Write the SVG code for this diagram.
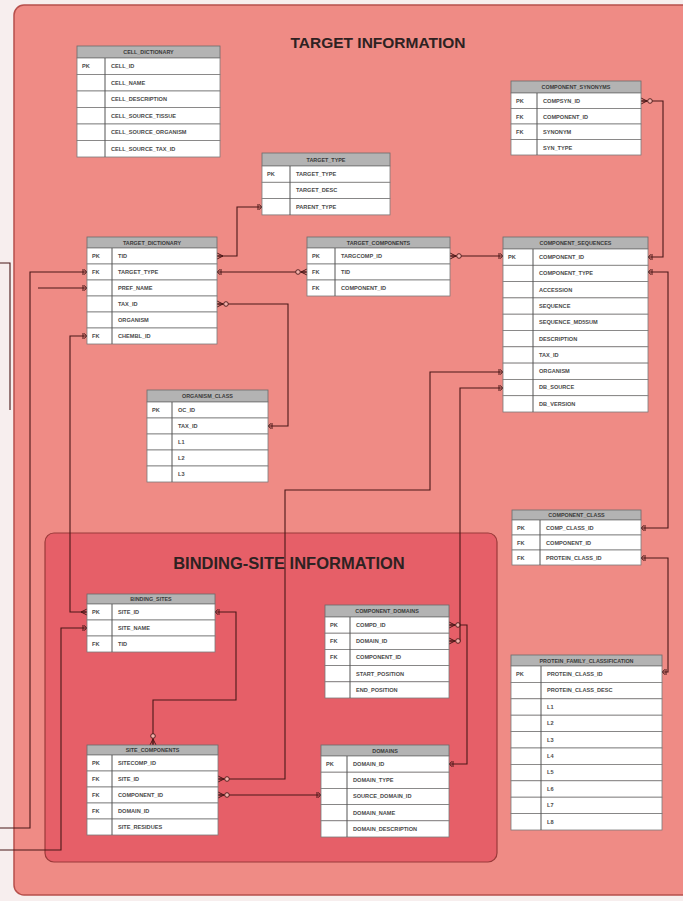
<svg xmlns="http://www.w3.org/2000/svg" width="683" height="901" viewBox="0 0 683 901">
<style>
.hd{fill:#b3b3b3;stroke:#6a6a6a;stroke-width:0.8}
.rw{fill:#ffffff;stroke:#7a7a7a;stroke-width:0.8}
.sp{stroke:#555;stroke-width:1}
.t{font-family:"Liberation Sans",Arial,sans-serif;font-size:5.6px;font-weight:bold;fill:#4a4a4a}
.h{font-family:"Liberation Sans",Arial,sans-serif;font-size:5.4px;font-weight:bold;fill:#3a3a3a;text-anchor:middle}
.ttl{font-family:"Liberation Sans",Arial,sans-serif;font-weight:bold;fill:#2e2222;text-anchor:middle}
.c{fill:none;stroke:#4a1818;stroke-width:1.1}
</style>
<defs>
<marker id="crow" markerUnits="userSpaceOnUse" viewBox="-12 -5 14 10" refX="0" refY="0" markerWidth="14" markerHeight="10" orient="auto-start-reverse">
<path d="M-6,0 L0,-3 M-6,0 L0,0 M-6,0 L0,3" fill="none" stroke="#4a1818" stroke-width="1"/>
</marker>
<marker id="ocrow" markerUnits="userSpaceOnUse" viewBox="-14 -5 16 10" refX="0" refY="0" markerWidth="16" markerHeight="10" orient="auto-start-reverse">
<path d="M-6,0 L0,-3 M-6,0 L0,0 M-6,0 L0,3" fill="none" stroke="#4a1818" stroke-width="1"/>
<circle cx="-9" cy="0" r="2.3" fill="#f3b0aa" stroke="#4a1818" stroke-width="0.9"/>
</marker>
<marker id="bar" markerUnits="userSpaceOnUse" viewBox="-8 -5 10 10" refX="0" refY="0" markerWidth="10" markerHeight="10" orient="auto-start-reverse">
<path d="M-4,-3 L-4,3 M-3,-2.5 L0,0 L-3,2.5" fill="none" stroke="#4a1818" stroke-width="1"/>
</marker>
</defs>

<rect x="0" y="0" width="683" height="901" fill="#f7eeee"/>
<rect x="14" y="5" width="680" height="890" rx="10" fill="#ef8b85" stroke="#b7504c" stroke-width="1.5"/>
<rect x="45" y="533" width="452" height="329" rx="9" fill="#e65f68" stroke="#9a3a3a" stroke-width="1.2"/>
<text class="ttl" x="378" y="48" font-size="15.5">TARGET INFORMATION</text>
<text class="ttl" x="289" y="569" font-size="16.5">BINDING-SITE INFORMATION</text>

<g id="connectors">
<path class="c" d="M217,256 H237 V207 H262" marker-start="url(#crow)" marker-end="url(#bar)"/>
<path class="c" d="M217,272 H307" marker-start="url(#bar)" marker-end="url(#ocrow)"/>
<path class="c" d="M217,304 H288 V426 H268" marker-start="url(#ocrow)" marker-end="url(#bar)"/>
<path class="c" d="M450,256 H503" marker-start="url(#ocrow)" marker-end="url(#bar)"/>
<path class="c" d="M641,101 H663 V257 H648" marker-start="url(#ocrow)" marker-end="url(#bar)"/>
<path class="c" d="M641,528 H668 V272 H648" marker-start="url(#bar)" marker-end="url(#bar)"/>
<path class="c" d="M641,558 H668 V672 H662" marker-start="url(#bar)" marker-end="url(#bar)"/>
<path class="c" d="M87,336 H70 V612 H87" marker-start="url(#bar)" marker-end="url(#crow)"/>
<path class="c" d="M215,612 H236 V700 H153 V745" marker-start="url(#bar)" marker-end="url(#ocrow)"/>
<path class="c" d="M218,795 H321" marker-start="url(#ocrow)" marker-end="url(#bar)"/>
<path class="c" d="M218,779 H285 V490 H430 V372 H503" marker-start="url(#ocrow)" marker-end="url(#bar)"/>
<path class="c" d="M449,625 H467 V764 H449" marker-start="url(#ocrow)" marker-end="url(#bar)"/>
<path class="c" d="M449,641 H460 V388 H503" marker-start="url(#ocrow)" marker-end="url(#bar)"/>
<path class="c" d="M0,263 H10 V410"/>
<path class="c" d="M0,828 H30 V272 H87" marker-end="url(#bar)"/>
<path class="c" d="M0,850 H61 V628 H87" marker-end="url(#bar)"/>
<path class="c" d="M38,288 H87" marker-end="url(#bar)"/>
</g>

<g id="cell_dictionary">
<rect class="hd" x="77" y="46" width="143" height="12"/>
<text class="h" x="148.5" y="54">CELL_DICTIONARY</text>
<rect class="rw" x="77" y="58" width="143" height="16.5"/><rect class="rw" x="77" y="74.5" width="143" height="16.5"/><rect class="rw" x="77" y="91" width="143" height="16.5"/><rect class="rw" x="77" y="107.5" width="143" height="16.5"/><rect class="rw" x="77" y="124" width="143" height="16.5"/><rect class="rw" x="77" y="140.5" width="143" height="16.5"/>
<line class="sp" x1="105" y1="58" x2="105" y2="157"/>
<text class="t" x="82" y="68">PK</text>
<text class="t" x="111" y="68">CELL_ID</text><text class="t" x="111" y="84.5">CELL_NAME</text><text class="t" x="111" y="101">CELL_DESCRIPTION</text><text class="t" x="111" y="117.5">CELL_SOURCE_TISSUE</text><text class="t" x="111" y="134">CELL_SOURCE_ORGANISM</text><text class="t" x="111" y="150.5">CELL_SOURCE_TAX_ID</text>
</g>

<g id="target_type">
<rect class="hd" x="262" y="153" width="128" height="13"/>
<text class="h" x="326" y="161.5">TARGET_TYPE</text>
<rect class="rw" x="262" y="166" width="128" height="16.3"/><rect class="rw" x="262" y="182.3" width="128" height="16.3"/><rect class="rw" x="262" y="198.6" width="128" height="16.3"/>
<line class="sp" x1="290" y1="166" x2="290" y2="215"/>
<text class="t" x="267" y="176">PK</text>
<text class="t" x="296" y="176">TARGET_TYPE</text><text class="t" x="296" y="192.3">TARGET_DESC</text><text class="t" x="296" y="208.6">PARENT_TYPE</text>
</g>

<g id="target_dictionary">
<rect class="hd" x="87" y="237" width="130" height="11"/>
<text class="h" x="152" y="244.5">TARGET_DICTIONARY</text>
<rect class="rw" x="87" y="248" width="130" height="16"/><rect class="rw" x="87" y="264" width="130" height="16"/><rect class="rw" x="87" y="280" width="130" height="16"/><rect class="rw" x="87" y="296" width="130" height="16"/><rect class="rw" x="87" y="312" width="130" height="16"/><rect class="rw" x="87" y="328" width="130" height="16"/>
<line class="sp" x1="112" y1="248" x2="112" y2="344"/>
<text class="t" x="92" y="258">PK</text><text class="t" x="92" y="274">FK</text><text class="t" x="92" y="338">FK</text>
<text class="t" x="118" y="258">TID</text><text class="t" x="118" y="274">TARGET_TYPE</text><text class="t" x="118" y="290">PREF_NAME</text><text class="t" x="118" y="306">TAX_ID</text><text class="t" x="118" y="322">ORGANISM</text><text class="t" x="118" y="338">CHEMBL_ID</text>
</g>

<g id="target_components">
<rect class="hd" x="307" y="237" width="143" height="11"/>
<text class="h" x="378.5" y="244.5">TARGET_COMPONENTS</text>
<rect class="rw" x="307" y="248" width="143" height="16"/><rect class="rw" x="307" y="264" width="143" height="16"/><rect class="rw" x="307" y="280" width="143" height="16"/>
<line class="sp" x1="335" y1="248" x2="335" y2="296"/>
<text class="t" x="312" y="258">PK</text><text class="t" x="312" y="274">FK</text><text class="t" x="312" y="290">FK</text>
<text class="t" x="341" y="258">TARGCOMP_ID</text><text class="t" x="341" y="274">TID</text><text class="t" x="341" y="290">COMPONENT_ID</text>
</g>

<g id="component_synonyms">
<rect class="hd" x="511" y="81" width="130" height="12"/>
<text class="h" x="576" y="89">COMPONENT_SYNONYMS</text>
<rect class="rw" x="511" y="93" width="130" height="15.5"/><rect class="rw" x="511" y="108.5" width="130" height="15.5"/><rect class="rw" x="511" y="124" width="130" height="15.5"/><rect class="rw" x="511" y="139.5" width="130" height="15.5"/>
<line class="sp" x1="537" y1="93" x2="537" y2="155"/>
<text class="t" x="516" y="103">PK</text><text class="t" x="516" y="118.5">FK</text><text class="t" x="516" y="134">FK</text>
<text class="t" x="543" y="103">COMPSYN_ID</text><text class="t" x="543" y="118.5">COMPONENT_ID</text><text class="t" x="543" y="134">SYNONYM</text><text class="t" x="543" y="149.5">SYN_TYPE</text>
</g>

<g id="component_sequences">
<rect class="hd" x="503" y="237" width="145" height="12"/>
<text class="h" x="575.5" y="245">COMPONENT_SEQUENCES</text>
<rect class="rw" x="503" y="249" width="145" height="16.3"/><rect class="rw" x="503" y="265.3" width="145" height="16.3"/><rect class="rw" x="503" y="281.6" width="145" height="16.3"/><rect class="rw" x="503" y="297.9" width="145" height="16.3"/><rect class="rw" x="503" y="314.2" width="145" height="16.3"/><rect class="rw" x="503" y="330.5" width="145" height="16.3"/><rect class="rw" x="503" y="346.8" width="145" height="16.3"/><rect class="rw" x="503" y="363.1" width="145" height="16.3"/><rect class="rw" x="503" y="379.4" width="145" height="16.3"/><rect class="rw" x="503" y="395.7" width="145" height="16.3"/>
<line class="sp" x1="533" y1="249" x2="533" y2="412"/>
<text class="t" x="508" y="259">PK</text>
<text class="t" x="539" y="259">COMPONENT_ID</text><text class="t" x="539" y="275.3">COMPONENT_TYPE</text><text class="t" x="539" y="291.6">ACCESSION</text><text class="t" x="539" y="307.9">SEQUENCE</text><text class="t" x="539" y="324.2">SEQUENCE_MD5SUM</text><text class="t" x="539" y="340.5">DESCRIPTION</text><text class="t" x="539" y="356.8">TAX_ID</text><text class="t" x="539" y="373.1">ORGANISM</text><text class="t" x="539" y="389.4">DB_SOURCE</text><text class="t" x="539" y="405.7">DB_VERSION</text>
</g>

<g id="organism_class">
<rect class="hd" x="147" y="390" width="121" height="12"/>
<text class="h" x="207.5" y="398">ORGANISM_CLASS</text>
<rect class="rw" x="147" y="402" width="121" height="16"/><rect class="rw" x="147" y="418" width="121" height="16"/><rect class="rw" x="147" y="434" width="121" height="16"/><rect class="rw" x="147" y="450" width="121" height="16"/><rect class="rw" x="147" y="466" width="121" height="16"/>
<line class="sp" x1="172" y1="402" x2="172" y2="482"/>
<text class="t" x="152" y="412">PK</text>
<text class="t" x="178" y="412">OC_ID</text><text class="t" x="178" y="428">TAX_ID</text><text class="t" x="178" y="444">L1</text><text class="t" x="178" y="460">L2</text><text class="t" x="178" y="476">L3</text>
</g>

<g id="component_class">
<rect class="hd" x="512" y="510" width="129" height="10"/>
<text class="h" x="576.5" y="517">COMPONENT_CLASS</text>
<rect class="rw" x="512" y="520" width="129" height="15"/><rect class="rw" x="512" y="535" width="129" height="15"/><rect class="rw" x="512" y="550" width="129" height="15"/>
<line class="sp" x1="540" y1="520" x2="540" y2="565"/>
<text class="t" x="517" y="529.5">PK</text><text class="t" x="517" y="544.5">FK</text><text class="t" x="517" y="559.5">FK</text>
<text class="t" x="546" y="529.5">COMP_CLASS_ID</text><text class="t" x="546" y="544.5">COMPONENT_ID</text><text class="t" x="546" y="559.5">PROTEIN_CLASS_ID</text>
</g>

<g id="binding_sites">
<rect class="hd" x="87" y="594" width="128" height="10"/>
<text class="h" x="151" y="601">BINDING_SITES</text>
<rect class="rw" x="87" y="604" width="128" height="16"/><rect class="rw" x="87" y="620" width="128" height="16"/><rect class="rw" x="87" y="636" width="128" height="16"/>
<line class="sp" x1="112" y1="604" x2="112" y2="652"/>
<text class="t" x="92" y="614">PK</text><text class="t" x="92" y="646">FK</text>
<text class="t" x="118" y="614">SITE_ID</text><text class="t" x="118" y="630">SITE_NAME</text><text class="t" x="118" y="646">TID</text>
</g>

<g id="site_components">
<rect class="hd" x="87" y="745" width="131" height="10"/>
<text class="h" x="152.5" y="752">SITE_COMPONENTS</text>
<rect class="rw" x="87" y="755" width="131" height="16"/><rect class="rw" x="87" y="771" width="131" height="16"/><rect class="rw" x="87" y="787" width="131" height="16"/><rect class="rw" x="87" y="803" width="131" height="16"/><rect class="rw" x="87" y="819" width="131" height="16"/>
<line class="sp" x1="112" y1="755" x2="112" y2="835"/>
<text class="t" x="92" y="765">PK</text><text class="t" x="92" y="781">FK</text><text class="t" x="92" y="797">FK</text><text class="t" x="92" y="813">FK</text>
<text class="t" x="118" y="765">SITECOMP_ID</text><text class="t" x="118" y="781">SITE_ID</text><text class="t" x="118" y="797">COMPONENT_ID</text><text class="t" x="118" y="813">DOMAIN_ID</text><text class="t" x="118" y="829">SITE_RESIDUES</text>
</g>

<g id="component_domains">
<rect class="hd" x="325" y="605" width="124" height="12"/>
<text class="h" x="387" y="613">COMPONENT_DOMAINS</text>
<rect class="rw" x="325" y="617" width="124" height="16.2"/><rect class="rw" x="325" y="633.2" width="124" height="16.2"/><rect class="rw" x="325" y="649.4" width="124" height="16.2"/><rect class="rw" x="325" y="665.6" width="124" height="16.2"/><rect class="rw" x="325" y="681.8" width="124" height="16.2"/>
<line class="sp" x1="350" y1="617" x2="350" y2="698"/>
<text class="t" x="330" y="627">PK</text><text class="t" x="330" y="643.2">FK</text><text class="t" x="330" y="659.4">FK</text>
<text class="t" x="356" y="627">COMPD_ID</text><text class="t" x="356" y="643.2">DOMAIN_ID</text><text class="t" x="356" y="659.4">COMPONENT_ID</text><text class="t" x="356" y="675.6">START_POSITION</text><text class="t" x="356" y="691.8">END_POSITION</text>
</g>

<g id="domains">
<rect class="hd" x="321" y="745" width="128" height="11"/>
<text class="h" x="385" y="752.5">DOMAINS</text>
<rect class="rw" x="321" y="756" width="128" height="16.2"/><rect class="rw" x="321" y="772.2" width="128" height="16.2"/><rect class="rw" x="321" y="788.4" width="128" height="16.2"/><rect class="rw" x="321" y="804.6" width="128" height="16.2"/><rect class="rw" x="321" y="820.8" width="128" height="16.2"/>
<line class="sp" x1="347" y1="756" x2="347" y2="837"/>
<text class="t" x="326" y="766">PK</text>
<text class="t" x="353" y="766">DOMAIN_ID</text><text class="t" x="353" y="782.2">DOMAIN_TYPE</text><text class="t" x="353" y="798.4">SOURCE_DOMAIN_ID</text><text class="t" x="353" y="814.6">DOMAIN_NAME</text><text class="t" x="353" y="830.8">DOMAIN_DESCRIPTION</text>
</g>

<g id="protein_family_classification">
<rect class="hd" x="511" y="655" width="151" height="11"/>
<text class="h" x="586.5" y="662.5">PROTEIN_FAMILY_CLASSIFICATION</text>
<rect class="rw" x="511" y="666" width="151" height="16.4"/><rect class="rw" x="511" y="682.4" width="151" height="16.4"/><rect class="rw" x="511" y="698.8" width="151" height="16.4"/><rect class="rw" x="511" y="715.2" width="151" height="16.4"/><rect class="rw" x="511" y="731.6" width="151" height="16.4"/><rect class="rw" x="511" y="748" width="151" height="16.4"/><rect class="rw" x="511" y="764.4" width="151" height="16.4"/><rect class="rw" x="511" y="780.8" width="151" height="16.4"/><rect class="rw" x="511" y="797.2" width="151" height="16.4"/><rect class="rw" x="511" y="813.6" width="151" height="16.4"/>
<line class="sp" x1="541" y1="666" x2="541" y2="830"/>
<text class="t" x="516" y="676">PK</text>
<text class="t" x="547" y="676">PROTEIN_CLASS_ID</text><text class="t" x="547" y="692.4">PROTEIN_CLASS_DESC</text><text class="t" x="547" y="708.8">L1</text><text class="t" x="547" y="725.2">L2</text><text class="t" x="547" y="741.6">L3</text><text class="t" x="547" y="758">L4</text><text class="t" x="547" y="774.4">L5</text><text class="t" x="547" y="790.8">L6</text><text class="t" x="547" y="807.2">L7</text><text class="t" x="547" y="823.6">L8</text>
</g>
</svg>
